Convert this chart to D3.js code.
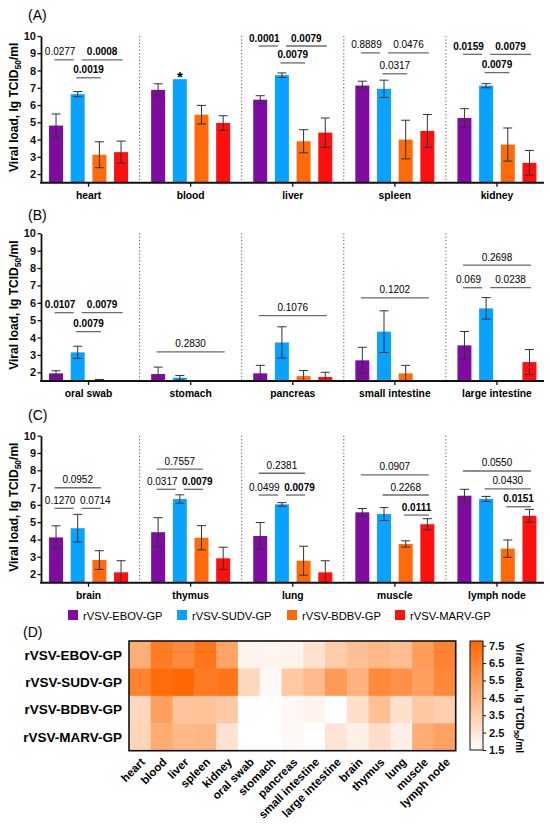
<!DOCTYPE html>
<html><head><meta charset="utf-8">
<script src="https://cdn.jsdelivr.net/npm/d3@7"></script>
<style>body{margin:0;background:#fff}svg{display:block}text{font-family:Arial,"Liberation Sans",sans-serif}</style>
</head><body>
<script>
// ---------- DATA ----------
const series = ["rVSV-EBOV-GP","rVSV-SUDV-GP","rVSV-BDBV-GP","rVSV-MARV-GP"];
const seriesColors = ["#7F0CA0","#0AA2FF","#FF6A0A","#FF0F0F"];
const tissues = ["heart","blood","liver","spleen","kidney","oral swab","stomach","pancreas","small intestine","large intestine","brain","thymus","lung","muscle","lymph node"];
const meanEBOV = [4.81,6.88,6.31,7.13,5.25, 1.94,1.90,1.94,2.69,3.55, 4.12,4.42,4.20,5.57,6.53];
const sdEBOV   = [0.67,0.35,0.23,0.25,0.54, 0.15,0.40,0.46,0.75,0.80, 0.67,0.84,0.78,0.22,0.37];
const meanSUDV = [6.63,7.50,7.73,6.94,7.12, 3.15,1.69,3.72,4.34,5.68, 4.65,6.34,6.03,5.47,6.34];
const sdSUDV   = [0.15,0.00,0.13,0.50,0.12, 0.35,0.13,0.90,1.20,0.62, 0.80,0.24,0.10,0.37,0.15];
const meanBDBV = [3.12,5.44,3.90,4.00,3.71, 1.56,null,1.78,1.94,null, 2.81,4.10,2.77,3.74,3.47];
const sdBDBV   = [0.75,0.54,0.67,1.12,0.96, 0.03,null,0.32,0.46,null, 0.54,0.70,0.84,0.18,0.50];
const meanMARV = [3.27,4.96,4.40,4.50,2.65, null,null,1.73,null,2.59, 2.10,2.91,2.10,4.88,5.37];
const sdMARV   = [0.64,0.42,0.85,0.95,0.72, null,null,0.27,null,0.72, 0.67,0.64,0.67,0.32,0.37];
const means = [meanEBOV, meanSUDV, meanBDBV, meanMARV];
const sds = [sdEBOV, sdSUDV, sdBDBV, sdMARV];
const yTicks = [2,3,4,5,6,7,8,9,10];
const cbTicks = [1.5,2.5,3.5,4.5,5.5,6.5,7.5];

// significance brackets
const brTissue = ["heart","heart","heart","liver","liver","liver","spleen","spleen","spleen","kidney","kidney","kidney",
  "oral swab","oral swab","oral swab","stomach","pancreas","small intestine","large intestine","large intestine","large intestine",
  "brain","brain","brain","thymus","thymus","thymus","lung","lung","lung","muscle","muscle","muscle","lymph node","lymph node","lymph node"];
const brFrom = [0,1,1, 0,1,1, 0,1,1, 0,1,1, 0,1,1, 0,0,0,0,0,1, 0,0,1, 0,0,1, 0,0,1, 0,1,2, 0,1,2];
const brTo   = [1,3,2, 1,3,2, 1,3,2, 1,3,2, 1,3,2, 3,3,3,3,1,3, 2,1,2, 2,1,2, 2,1,2, 3,3,3, 3,3,3];
const brLevel= [8.62,8.62,7.58, 9.42,9.42,8.44, 9.02,9.02,7.81, 8.94,8.94,7.88,
  5.43,5.43,4.34, 3.18,5.26,6.28,8.17,6.87,6.87,
  6.99,5.80,5.80, 8.07,6.90,6.90, 7.83,6.57,6.57, 7.73,6.57,5.41, 7.96,6.92,5.89];
const brLabel= ["0.0277","0.0008","0.0019","0.0001","0.0079","0.0079","0.8889","0.0476","0.0317","0.0159","0.0079","0.0079",
  "0.0107","0.0079","0.0079","0.2830","0.1076","0.1202","0.2698","0.069","0.0238",
  "0.0952","0.1270","0.0714","0.7557","0.0317","0.0079","0.2381","0.0499","0.0079","0.0907","0.2268","0.0111","0.0550","0.0430","0.0151"];
const brBold = [0,1,1, 1,1,1, 0,0,0, 1,1,1, 1,1,1, 0,0,0,0,0,0, 0,0,0, 0,0,1, 0,0,1, 0,0,1, 0,0,1];
const starTissue = "blood", starSeries = 1;

// ---------- LAYOUT ----------
const svg = d3.select("body").append("svg").attr("width",550).attr("height",832);
svg.append("rect").attr("width",550).attr("height",832).attr("fill","#fff");

const panels = [
  {label:"(A)", labelY:20, ts:tissues.slice(0,5),  top:36,    bottom:182.7, xLabY:199},
  {label:"(B)", labelY:220, ts:tissues.slice(5,10), top:233.3, bottom:381,   xLabY:397},
  {label:"(C)", labelY:420, ts:tissues.slice(10,15),top:435.7, bottom:582.7, xLabY:599}
];
const axisX0 = 41, axisX1 = 544;

panels.forEach(p => {
  const g = svg.append("g");
  const y = d3.scaleLinear().domain([1.5,10]).range([p.bottom, p.top]);
  const xg = d3.scaleBand().domain(p.ts).range([37.5,548]);
  const bw = xg.bandwidth();
  const xs = d3.scaleBand().domain([0,1,2,3]).range([bw/2-39.5, bw/2+39.5]).paddingInner(0.355);
  const cx = (t,s) => xg(t) + xs(s) + xs.bandwidth()/2;

  g.append("text").attr("x",28).attr("y",p.labelY).attr("font-size",14).text(p.label);

  p.ts.slice(1).forEach(t => {
    const sx = xg(t);
    g.append("line").attr("x1",sx).attr("x2",sx).attr("y1",y(10)).attr("y2",y(1.5))
      .attr("stroke","#555").attr("stroke-width",1).attr("stroke-dasharray","1.2,2.2");
  });

  p.ts.forEach(t => {
    const ti = tissues.indexOf(t);
    series.forEach((s,si) => {
      const m = means[si][ti];
      if (m === null) return;
      g.append("rect").attr("x", xg(t)+xs(si)).attr("width", xs.bandwidth())
        .attr("y", y(m)).attr("height", y(1.5)-y(m)).attr("fill", seriesColors[si]);
      const sd = sds[si][ti];
      if (sd > 0) {
        const c = cx(t,si), hi = y(m+sd), lo = y(Math.max(1.5, m-sd));
        const eg = g.append("g").attr("stroke","#333").attr("stroke-width",1);
        eg.append("line").attr("x1",c).attr("x2",c).attr("y1",hi).attr("y2",lo);
        eg.append("line").attr("x1",c-4.5).attr("x2",c+4.5).attr("y1",hi).attr("y2",hi);
        eg.append("line").attr("x1",c-4.5).attr("x2",c+4.5).attr("y1",lo).attr("y2",lo);
      }
    });
  });

  if (p.ts.includes(starTissue)) {
    const ti = tissues.indexOf(starTissue);
    g.append("text").attr("x", cx(starTissue, starSeries)).attr("y", y(means[starSeries][ti]) + 3)
      .attr("text-anchor","middle").attr("font-size",15).attr("font-weight","bold").text("*");
  }

  brTissue.forEach((t,i) => {
    if (!p.ts.includes(t)) return;
    const a = brFrom[i], b = brTo[i], lv = brLevel[i];
    const sharedA = brTissue.some((t2,j) => j!==i && t2===t && brLevel[j]===lv && (brTo[j]===a || brFrom[j]===a));
    const sharedB = brTissue.some((t2,j) => j!==i && t2===t && brLevel[j]===lv && (brFrom[j]===b || brTo[j]===b));
    const x1 = cx(t,a) + (sharedA ? 4 : -1.5);
    const x2 = cx(t,b) + (sharedB ? -4 : 1.5);
    const ly = y(lv);
    const short = (x2 - x1) < 30;
    const tx = (x1+x2)/2 + (short ? (sharedA ? 4 : 0) - (sharedB ? 4 : 0) : 0);
    g.append("line").attr("x1",x1).attr("x2",x2).attr("y1",ly).attr("y2",ly)
      .attr("stroke","#6b6b6b").attr("stroke-width",1.3);
    g.append("text").attr("x",tx).attr("y",ly-4.5).attr("text-anchor","middle")
      .attr("font-size",10).attr("font-weight", brBold[i] ? "bold" : "normal").text(brLabel[i]);
  });

  const ya = g.append("g").attr("transform",`translate(${axisX0},0)`)
    .call(d3.axisLeft(y).tickValues(yTicks).tickSize(3.5).tickSizeOuter(0).tickPadding(1.5).tickFormat(d3.format("d")));
  ya.select(".domain").attr("stroke","#111").attr("stroke-width",1.8);
  ya.selectAll(".tick line").attr("stroke","#111").attr("stroke-width",1.3);
  ya.selectAll(".tick text").attr("font-size",11).attr("font-weight","bold").attr("fill","#111")
    .attr("font-family","Arial, 'Liberation Sans', sans-serif");

  const xa = g.append("g").attr("transform",`translate(0,${p.bottom})`)
    .call(d3.axisBottom(xg).tickSize(4).tickSizeOuter(0).tickFormat(""));
  xa.select(".domain").remove();
  xa.selectAll(".tick").attr("transform", d => `translate(${cx(d,0)/2 + cx(d,3)/2},0)`);
  xa.selectAll(".tick line").attr("stroke","#111").attr("stroke-width",1.3);
  g.append("line").attr("x1",axisX0-0.9).attr("x2",axisX1).attr("y1",p.bottom).attr("y2",p.bottom)
    .attr("stroke","#111").attr("stroke-width",2);
  p.ts.forEach(t => {
    g.append("text").attr("x",(cx(t,0)+cx(t,3))/2).attr("y",p.xLabY).attr("text-anchor","middle")
      .attr("font-size",10.3).attr("font-weight","bold").text(t);
  });

  const tt = g.append("text").attr("transform",`translate(18,${(p.top+p.bottom)/2 - 2}) rotate(-90)`)
    .attr("text-anchor","middle").attr("font-size",12).attr("font-weight","bold");
  tt.append("tspan").text("Viral load, lg TCID");
  tt.append("tspan").attr("font-size",8.5).attr("dy",3).text("50");
  tt.append("tspan").attr("dy",-3).text("/ml");
});

// legend
const legX = [68,177,287,395];
series.forEach((s,i) => {
  svg.append("rect").attr("x",legX[i]).attr("y",610).attr("width",10).attr("height",10).attr("fill",seriesColors[i]);
  svg.append("text").attr("x",legX[i]+15).attr("y",619.5).attr("font-size",11.2).text(s);
});

// ---------- HEATMAP ----------
svg.append("text").attr("x",23).attr("y",637).attr("font-size",14).text("(D)");
const hx = d3.scaleBand().domain(tissues).range([129,455.7]);
const hy = d3.scaleBand().domain(series).range([641,750.7]);
const cbDomain = [1.5,7.77];
const color = d3.scaleLinear().domain(cbDomain).range(["#ffffff","#ff6600"]).clamp(true);
series.forEach((s,si) => {
  tissues.forEach((t,ti) => {
    const v = means[si][ti] === null ? 1.5 : means[si][ti];
    svg.append("rect").attr("x",hx(t)).attr("y",hy(s)).attr("width",hx.bandwidth()+0.5).attr("height",hy.bandwidth()+0.5)
      .attr("fill",color(v));
  });
  svg.append("text").attr("x",122).attr("y",hy(s)+hy.bandwidth()/2).attr("dy","0.36em").attr("text-anchor","end")
    .attr("font-size",13.5).attr("font-weight","bold").text(s);
});
svg.append("rect").attr("x",129).attr("y",641).attr("width",455.7-129).attr("height",750.7-641)
  .attr("fill","none").attr("stroke","#111").attr("stroke-width",1.6);
tissues.forEach(t => {
  const c = hx(t)+hx.bandwidth()/2 + 3;
  svg.append("text").attr("transform",`translate(${c},760) rotate(-45)`).attr("text-anchor","end")
    .attr("dy","0.35em").attr("font-size",11.5).attr("font-weight","bold").text(t);
});

// colorbar
const cbY = d3.scaleLinear().domain(cbDomain).range([750,641]);
const defs = svg.append("defs");
const grad = defs.append("linearGradient").attr("id","cbg").attr("x1",0).attr("x2",0).attr("y1",1).attr("y2",0);
grad.append("stop").attr("offset","0%").attr("stop-color",color(cbDomain[0]));
grad.append("stop").attr("offset","100%").attr("stop-color",color(cbDomain[1]));
svg.append("rect").attr("x",470).attr("y",641).attr("width",13).attr("height",109).attr("fill","url(#cbg)")
  .attr("stroke","#111").attr("stroke-width",1);
const cba = svg.append("g").attr("transform","translate(483,0)")
  .call(d3.axisRight(cbY).tickValues(cbTicks).tickSize(3).tickSizeOuter(0).tickPadding(3).tickFormat(d3.format(".1f")));
cba.select(".domain").remove();
cba.selectAll(".tick line").attr("stroke","#111");
cba.selectAll(".tick text").attr("font-size",11).attr("font-weight","bold").attr("fill","#111")
  .attr("font-family","Arial, 'Liberation Sans', sans-serif");
const ct = svg.append("text").attr("transform","translate(516,698) rotate(90)").attr("text-anchor","middle")
  .attr("font-size",10.2).attr("font-weight","bold");
ct.append("tspan").text("Viral load, lg TCID");
ct.append("tspan").attr("font-size",7.5).attr("dy",2.5).text("50");
ct.append("tspan").attr("dy",-2.5).text("/ml");
</script>
</body></html>
